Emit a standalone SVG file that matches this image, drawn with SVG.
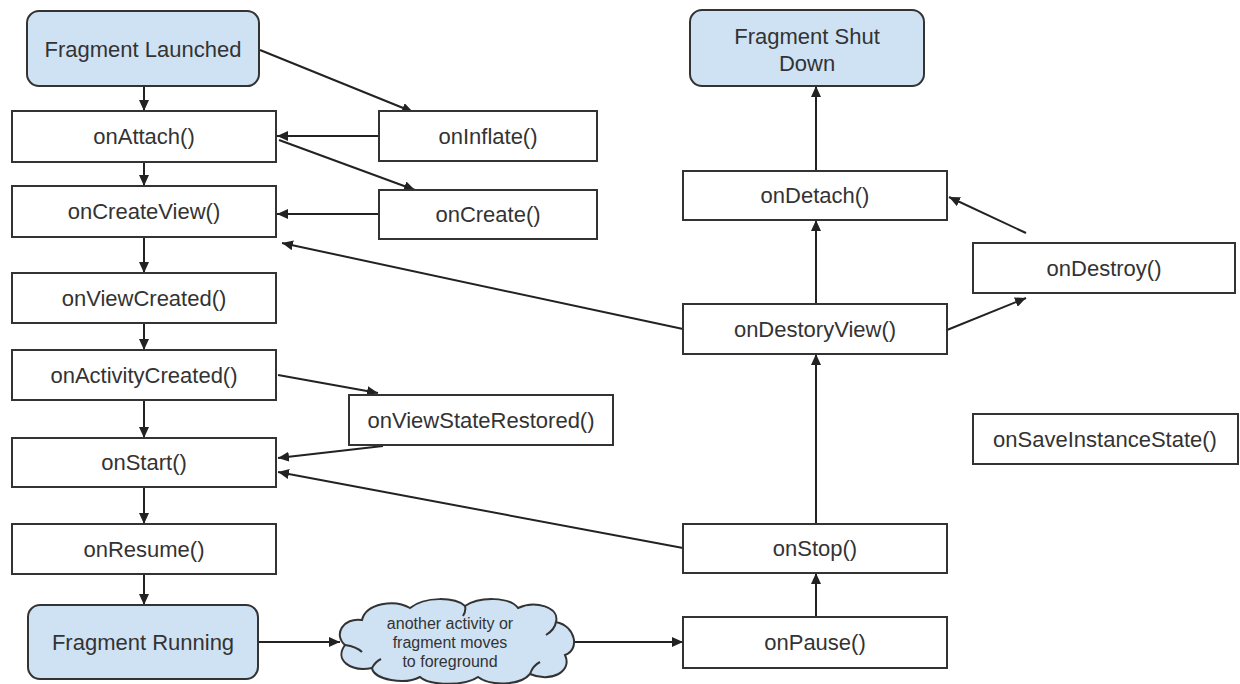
<svg xmlns="http://www.w3.org/2000/svg" width="1240" height="684" viewBox="0 0 1240 684">
<defs>
<marker id="arr" markerUnits="userSpaceOnUse" markerWidth="12" markerHeight="10" refX="11" refY="5" orient="auto">
<path d="M0,0 L11,5 L0,10 Z" fill="#222"/>
</marker>
<style>
.box{fill:#fff;stroke:#333;stroke-width:2}
.state{fill:#cfe2f3;stroke:#333;stroke-width:2}
.t{font-family:"Liberation Sans",Arial,sans-serif;font-size:22px;fill:#333;text-anchor:middle}
.s{font-family:"Liberation Sans",Arial,sans-serif;font-size:16px;fill:#333;text-anchor:middle}
.c{fill:none;stroke:#222;stroke-width:2;marker-end:url(#arr)}
</style>
</defs>
<rect width="1240" height="684" fill="#fff"/>
<g id="connectors">
<line class="c" x1="144" y1="86" x2="144" y2="111"/>
<line class="c" x1="260" y1="50" x2="413" y2="112"/>
<line class="c" x1="379" y1="136" x2="277" y2="136"/>
<line class="c" x1="279" y1="140" x2="415" y2="190"/>
<line class="c" x1="379" y1="214" x2="277" y2="214"/>
<line class="c" x1="144" y1="162" x2="144" y2="186"/>
<line class="c" x1="144" y1="237" x2="144" y2="273"/>
<line class="c" x1="144" y1="323" x2="144" y2="350"/>
<line class="c" x1="278" y1="375" x2="378" y2="393"/>
<line class="c" x1="144" y1="400" x2="144" y2="438"/>
<line class="c" x1="383" y1="446" x2="278" y2="458"/>
<line class="c" x1="683" y1="548" x2="278" y2="472"/>
<line class="c" x1="144" y1="487" x2="144" y2="524"/>
<line class="c" x1="144" y1="574" x2="144" y2="605"/>
<line class="c" x1="258" y1="642" x2="340" y2="642"/>
<line class="c" x1="575" y1="642" x2="683" y2="642"/>
<line class="c" x1="816" y1="617" x2="816" y2="573"/>
<line class="c" x1="816" y1="524" x2="816" y2="354"/>
<line class="c" x1="683" y1="329" x2="282" y2="243"/>
<line class="c" x1="816" y1="304" x2="816" y2="220"/>
<line class="c" x1="947" y1="330" x2="1026" y2="298"/>
<line class="c" x1="1026" y1="233" x2="949" y2="197"/>
<line class="c" x1="816" y1="171" x2="816" y2="86"/>
</g>
<g id="fragment-launched"><rect class="state" x="27" y="11" width="232" height="75" rx="12"/><text class="t" x="143" y="57">Fragment Launched</text></g>
<g id="onAttach"><rect class="box" x="12" y="111" width="264" height="51"/><text class="t" x="144" y="144">onAttach()</text></g>
<g id="onInflate"><rect class="box" x="379" y="111" width="218" height="50"/><text class="t" x="488" y="144">onInflate()</text></g>
<g id="onCreateView"><rect class="box" x="12" y="186" width="264" height="51"/><text class="t" x="144" y="219">onCreateView()</text></g>
<g id="onCreate"><rect class="box" x="379" y="190" width="218" height="49"/><text class="t" x="488" y="222">onCreate()</text></g>
<g id="onViewCreated"><rect class="box" x="12" y="273" width="264" height="50"/><text class="t" x="144" y="306">onViewCreated()</text></g>
<g id="onActivityCreated"><rect class="box" x="12" y="350" width="264" height="50"/><text class="t" x="144" y="383">onActivityCreated()</text></g>
<g id="onViewStateRestored"><rect class="box" x="349" y="395" width="264" height="50"/><text class="t" x="481" y="428">onViewStateRestored()</text></g>
<g id="onStart"><rect class="box" x="12" y="438" width="264" height="49"/><text class="t" x="144" y="470">onStart()</text></g>
<g id="onResume"><rect class="box" x="12" y="524" width="264" height="50"/><text class="t" x="144" y="557">onResume()</text></g>
<g id="fragment-running"><rect class="state" x="28" y="605" width="230" height="74" rx="12"/><text class="t" x="143" y="650">Fragment Running</text></g>
<g id="cloud">
<path class="state" d="M345,645 C333,635 343,617 362,620 C366,603 395,599 410,608 C425,596 455,597 465,606 C480,596 510,597 518,608 C535,600 560,607 556,622 C576,626 580,650 565,655 C573,672 550,683 530,674 C520,686 490,686 478,677 C465,686 430,686 420,677 C405,685 374,680 372,668 C350,672 334,660 345,645 Z"/>
<path d="M345,645 C352,646 358,648 362,652 M556,622 C555,628 551,632 546,635 M530,674 C532,668 536,664 540,662 M372,668 C374,664 377,661 381,659 M465,606 C466,610 465,613 463,616" fill="none" stroke="#333" stroke-width="2"/>
<text class="s" x="450" y="629">another activity or</text>
<text class="s" x="450" y="648">fragment moves</text>
<text class="s" x="450" y="667">to foreground</text>
</g>
<g id="onPause"><rect class="box" x="683" y="617" width="264" height="51"/><text class="t" x="815" y="650">onPause()</text></g>
<g id="onStop"><rect class="box" x="683" y="524" width="264" height="49"/><text class="t" x="815" y="556">onStop()</text></g>
<g id="onDestoryView"><rect class="box" x="683" y="304" width="264" height="50"/><text class="t" x="815" y="337">onDestoryView()</text></g>
<g id="onDetach"><rect class="box" x="683" y="171" width="264" height="49"/><text class="t" x="815" y="203">onDetach()</text></g>
<g id="fragment-shut-down"><rect class="state" x="690" y="10" width="234" height="76" rx="12"/><text class="t" x="807" y="44">Fragment Shut</text><text class="t" x="807" y="71">Down</text></g>
<g id="onDestroy"><rect class="box" x="973" y="243" width="262" height="50"/><text class="t" x="1104" y="276">onDestroy()</text></g>
<g id="onSaveInstanceState"><rect class="box" x="973" y="414" width="265" height="50"/><text class="t" x="1105" y="447">onSaveInstanceState()</text></g>
</svg>
